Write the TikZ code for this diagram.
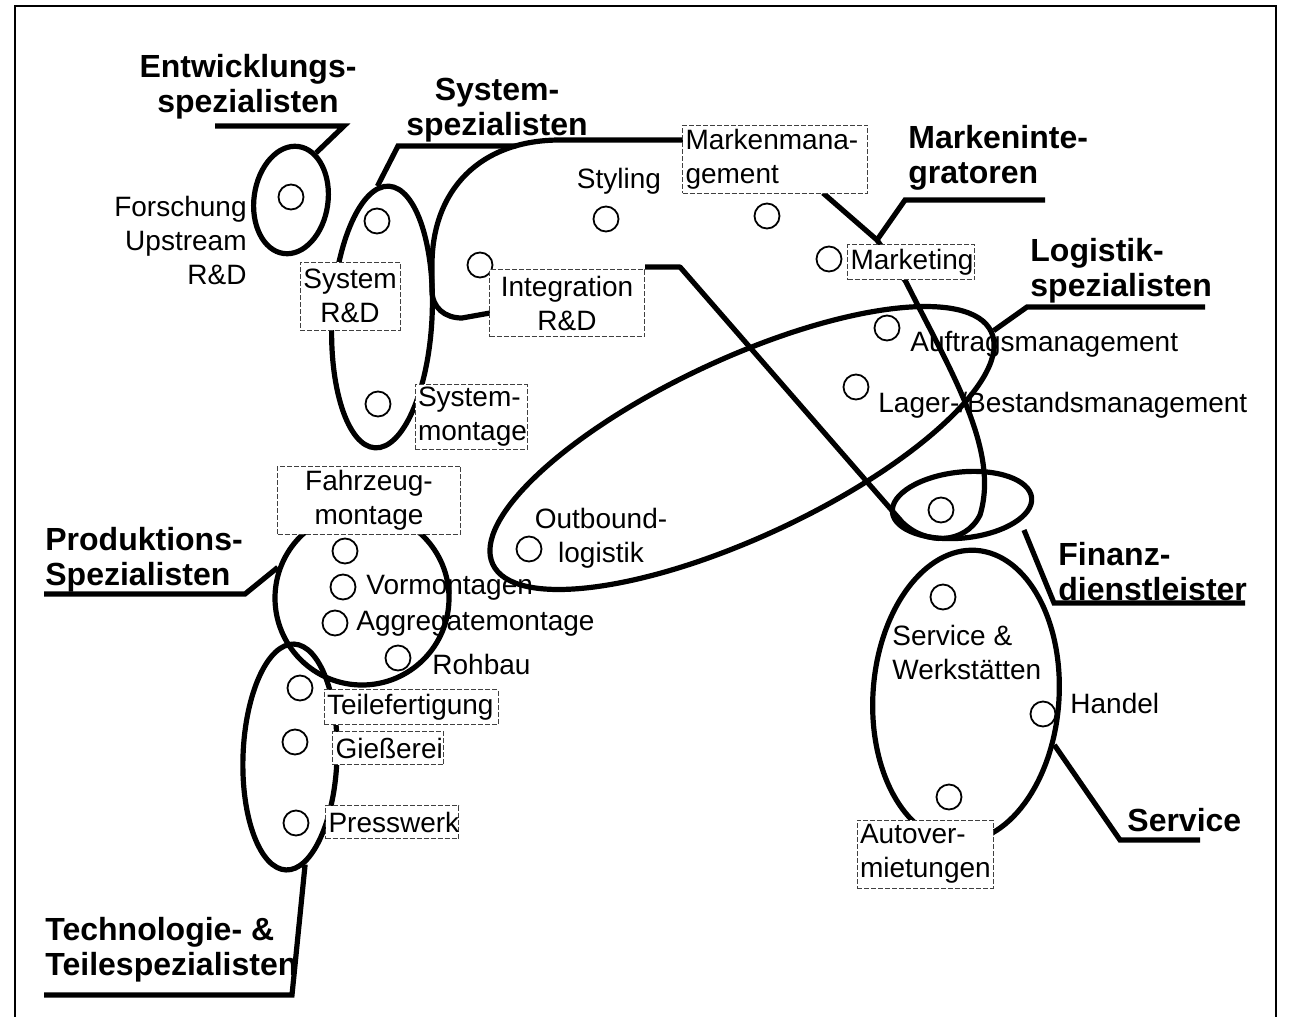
\documentclass[tikz,border=0pt]{standalone}
\usepackage{fontspec}
\setmainfont{Liberation Sans}
\usepackage{tikz}
\usetikzlibrary{shapes.geometric}

\newcommand{\lblsize}{\fontsize{14}{17}\selectfont}
\newcommand{\grpsize}{\fontsize{16}{17.5}\selectfont\bfseries}

\tikzset{
    lbl/.style={
        inner sep=0pt,
        font=\lblsize
    },
    grouplabel/.style={
        inner sep=0pt,
        font=\grpsize
    },
    textbox/.style={
        rectangle,
        draw=black!75,
        line width=0.4pt,
        dash pattern=on 2.5pt off 1pt,
        fill=white,
        inner sep=1.5pt,
        font=\lblsize
    },
    spot/.style={
        circle,
        draw=black,
        line width=0.9pt,
        minimum size=12.5pt,
        inner sep=0pt
    },
    cluster/.style={
        ellipse,
        draw=black,
        line width=2.6pt,
        inner sep=0pt
    },
    contour/.style={
        draw=black,
        line width=2.6pt,
        line join=round
    },
    leader/.style={
        draw=black,
        line width=2.6pt,
        line join=miter
    },
    pageframe/.style={
        draw=black,
        line width=1pt
    }
}

\begin{document}
\begin{tikzpicture}[x=0.5pt, y=-0.5pt]

\useasboundingbox (0,0) rectangle (1290,1017);
\draw[pageframe] (15,1017) -- (15,6) -- (1276,6) -- (1276,1017);

% Plain labels
\node[lbl, anchor=east, align=right] (forsch_lbl) at (247,240) {Forschung\\Upstream\\R\&D};
\node[lbl] (styling_lbl) at (619,181) {Styling};
\node[lbl, anchor=west] (auftrag_lbl) at (910,344) {Auftragsmanagement};
\node[lbl, anchor=west] (lager_lbl) at (878,405) {Lager-/Bestandsmanagement};
\node[lbl, align=center] (outbound_lbl) at (601,538) {Outbound-\\logistik};
\node[lbl, anchor=west] (vormont_lbl) at (366,588) {Vormontagen};
\node[lbl, anchor=west] (aggregat_lbl) at (356,624) {Aggregatemontage};
\node[lbl, anchor=west] (rohbau_lbl) at (432,664) {Rohbau};
\node[lbl, anchor=west, align=left] (service_lbl) at (892,652) {Service \&\\Werkstätten};
\node[lbl, anchor=west] (handel_lbl) at (1070,703) {Handel};

% Group names
\node[grouplabel, align=center] (entw_lbl) at (248,87) {Entwicklungs-\\spezialisten};
\node[grouplabel, align=center] (sys_lbl) at (497,110) {System-\\spezialisten};
\node[grouplabel, anchor=west, align=left] (marken_lbl) at (908,158) {Markeninte-\\gratoren};
\node[grouplabel, anchor=west, align=left] (logi_lbl) at (1030,271) {Logistik-\\spezialisten};
\node[grouplabel, anchor=west, align=left] (fin_lbl) at (1058,572) {Finanz-\\dienstleister};
\node[grouplabel, anchor=west, align=left] (prod_lbl) at (45,560) {Produktions-\\Spezialisten};
\node[grouplabel, anchor=west] (serv_lbl) at (1127,820) {Service};
\node[grouplabel, anchor=west, align=left] (tech_lbl) at (45,950) {Technologie- \&\\Teilespezialisten};

% Activities
\node[spot] (forsch_spot) at (291,197) {};
\node[spot] (sysrd_spot) at (377,221) {};
\node[spot] (sysmont_spot) at (378,404) {};
\node[spot] (integ_spot) at (480,265) {};
\node[spot] (styling_spot) at (606,219) {};
\node[spot] (marken_spot) at (767,216) {};
\node[spot] (marketing_spot) at (829,259) {};
\node[spot] (auftrag_spot) at (887,328) {};
\node[spot] (lager_spot) at (856,387) {};
\node[spot] (fin_spot) at (941,510) {};
\node[spot] (outbound_spot) at (529,549) {};
\node[spot] (fahrzeug_spot) at (345,551) {};
\node[spot] (vormont_spot) at (343,587) {};
\node[spot] (aggregat_spot) at (335,623) {};
\node[spot] (rohbau_spot) at (398,658) {};
\node[spot] (teile_spot) at (300,688) {};
\node[spot] (giess_spot) at (295,742) {};
\node[spot] (press_spot) at (296,823) {};
\node[spot] (service_spot) at (943,597) {};
\node[spot] (handel_spot) at (1043,714) {};
\node[spot] (autover_spot) at (949,797) {};

% Groups
\node[cluster, minimum width=37pt, minimum height=54pt, rotate=-8] (entw_grp) at (291,200) {};
\node[cluster, minimum width=50pt, minimum height=131pt, rotate=-3] (sys_grp) at (382,317) {};
\node[cluster, circle, minimum size=87pt] (prod_grp) at (362,598) {};
\node[cluster, minimum width=47pt, minimum height=113pt, rotate=-2] (teile_grp) at (290,757) {};
\node[cluster, minimum width=275pt, minimum height=89pt, rotate=25] (logi_grp) at (742,448) {};
\node[cluster, minimum width=70pt, minimum height=33pt, rotate=6] (fin_grp) at (962,505) {};
\node[cluster, minimum width=93pt, minimum height=146pt, rotate=-4] (serv_grp) at (966,696) {};

% Markenintegratoren
\coordinate (mi_v) at (877,240);
\draw[contour] (490,313) -- (462,318) .. controls (445,318) and (432,308) .. (432,290)
    -- (432,265) .. controls (432,190) and (480,140) .. (560,140) -- (685,140);
\draw[contour] (823,193) -- (mi_v) -- (906,282)
    .. controls (950,370) and (1000,450) .. (980,515)
    .. controls (965,545) and (925,545) .. (902,522) -- (680,267) -- (645,267);

% Leaders
\coordinate (entw_ul) at (215,126);
\coordinate (entw_bend) at (344,126);
\draw[leader] (entw_ul) -- (entw_bend) -- (entw_grp.70);
\coordinate (sys_ul) at (516,146);
\coordinate (sys_bend) at (398,146);
\draw[leader] (sys_ul) -- (sys_bend) -- (sys_grp.95);
\coordinate (marken_ul) at (1045,200);
\coordinate (marken_bend) at (905,200);
\draw[leader] (marken_ul) -- (marken_bend) -- (mi_v);
\coordinate (logi_ul) at (1205,307);
\coordinate (logi_bend) at (1027,307);
\draw[leader] (logi_ul) -- (logi_bend) -- (logi_grp.east);
\coordinate (fin_ul) at (1245,603);
\coordinate (fin_bend) at (1054,603);
\coordinate (fin_tip) at (1024,530);
\draw[leader] (fin_ul) -- (fin_bend) -- (fin_tip);
\coordinate (prod_ul) at (44,594);
\coordinate (prod_bend) at (245,594);
\draw[leader] (prod_ul) -- (prod_bend) -- (prod_grp.160);
\coordinate (serv_ul) at (1200,840);
\coordinate (serv_bend) at (1120,840);
\draw[leader] (serv_ul) -- (serv_bend) -- (serv_grp.-25);
\coordinate (tech_ul) at (44,995);
\coordinate (tech_bend) at (292,995);
\draw[leader] (tech_ul) -- (tech_bend) -- (teile_grp.-80);

% Boxed labels
\node[textbox, text width=47pt, minimum height=34pt, align=center] (sysrd_box) at (350,296) {System\\R\&D};
\node[textbox, text width=53pt, minimum height=32.5pt, align=left] (sysmont_box) at (471,417) {System-\\montage};
\node[textbox, text width=74.5pt, minimum height=33.5pt, align=center] (integ_box) at (567,303) {Integration\\R\&D};
\node[textbox, text width=89.5pt, minimum height=34pt, align=left] (marken_box) at (775,159) {Markenmana-\\gement};
\node[textbox, text width=60.5pt, minimum height=17.5pt, align=left] (marketing_box) at (911,262) {Marketing};
\node[textbox, text width=88.5pt, minimum height=34pt, align=center] (fahrzeug_box) at (369,500) {Fahrzeug-\\montage};
\node[textbox, text width=84pt, minimum height=17.5pt, align=left] (teile_box) at (411,707) {Teilefertigung};
\node[textbox, text width=52.5pt, minimum height=16.5pt, align=left] (giess_box) at (388,748) {Gießerei};
\node[textbox, text width=63.5pt, minimum height=16.5pt, align=left] (press_box) at (392,822) {Presswerk};
\node[textbox, text width=65pt, minimum height=34pt, align=left] (autover_box) at (925,854) {Autover-\\mietungen};

\end{tikzpicture}
\end{document}
